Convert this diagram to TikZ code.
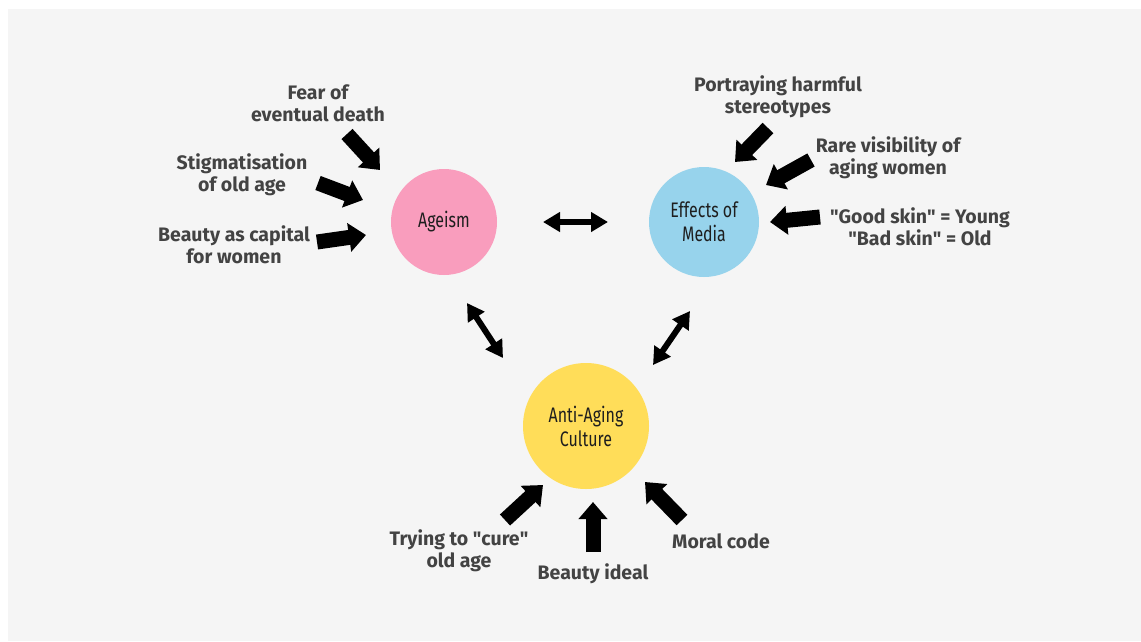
\documentclass[tikz,border=0pt]{standalone}
\usepackage{fontspec}
\setmainfont{Fira Sans}
\newfontfamily\condfont[FakeStretch=0.76]{Fira Sans}
\usetikzlibrary{arrows.meta}
\definecolor{bgc}{HTML}{F5F5F5}
\definecolor{txtgray}{HTML}{434343}
\definecolor{hubtext}{HTML}{1E1E1E}
\definecolor{pinkc}{HTML}{F99DBD}
\definecolor{bluec}{HTML}{97D3EC}
\definecolor{yellowc}{HTML}{FFDD59}
\newcommand{\qq}{\textquotedbl}
\begin{document}
\begin{tikzpicture}[x=1pt,y=-1pt,
  lbl/.style={font=\bfseries\fontsize{19.5}{22}\selectfont, text=txtgray, align=center, inner sep=0pt},
  hub/.style={circle, inner sep=0pt, minimum size=#1, font=\condfont\fontsize{21}{24}\selectfont, text=hubtext, align=center},
  blockarrow/.style={line width=15pt, -{Triangle[width=28pt,length=17pt]}},
  duoarrow/.style={line width=6pt, {Triangle[width=19pt,length=17pt]}-{Triangle[width=19pt,length=17pt]}}]
\useasboundingbox (0,0) rectangle (1141,641);
\fill[white] (0,0) rectangle (1141,641);
\fill[bgc] (8,9) rectangle (1141,641);

% hubs
\node[hub=106pt, fill=pinkc] (ageism) at (444,222) {Ageism};
\node[hub=110pt, fill=bluec] (media) at (704,222) {Effects of\\Media};
\node[hub=126pt, fill=yellowc] (anti) at (586,426) {Anti-Aging\\Culture};

% labels
\node[lbl] (fear) at (318,103) {Fear of\\eventual death};
\node[lbl] (stig) at (242,175) {Stigmatisation\\of old age};
\node[lbl] (capital) at (234,245) {Beauty as capital\\for women};
\node[lbl] (portray) at (778,97) {Portraying harmful\\stereotypes};
\node[lbl] (rare) at (888,158) {Rare visibility of\\aging women};
\node[lbl] (skin) at (920,227) {\qq Good skin\qq{} = Young\\\qq Bad skin\qq{} = Old};
\node[lbl] (cure) at (459,551) {Trying to \qq cure\qq\\old age};
\node[lbl] (ideal) at (593,574) {Beauty ideal};
\node[lbl] (moral) at (721,541) {Moral code};

% arrow end points
\coordinate (a1s) at (347,134); \coordinate (a1e) at (380,170);
\coordinate (a2s) at (318,183); \coordinate (a2e) at (363,200);
\coordinate (a3s) at (317,242); \coordinate (a3e) at (366,235);
\coordinate (a4s) at (768,128); \coordinate (a4e) at (735,162);
\coordinate (a5s) at (811,160); \coordinate (a5e) at (766,185);
\coordinate (a6s) at (820,217); \coordinate (a6e) at (770,222);
\coordinate (a7s) at (505,520); \coordinate (a7e) at (543,485);
\coordinate (a8s) at (593,552); \coordinate (a8e) at (593,502);
\coordinate (a9s) at (682,520); \coordinate (a9e) at (645,482);
\coordinate (d1a) at (543,222); \coordinate (d1b) at (608,222);
\coordinate (d2a) at (467,303); \coordinate (d2b) at (503,358);
\coordinate (d3a) at (690,311); \coordinate (d3b) at (653,365);

\foreach \i in {1,...,9} {\draw[blockarrow] (a\i s) -- (a\i e);}
\draw[duoarrow] (d1a) -- (d1b);
\draw[duoarrow] (d2a) -- (d2b);
\draw[duoarrow] (d3a) -- (d3b);
\end{tikzpicture}
\end{document}
